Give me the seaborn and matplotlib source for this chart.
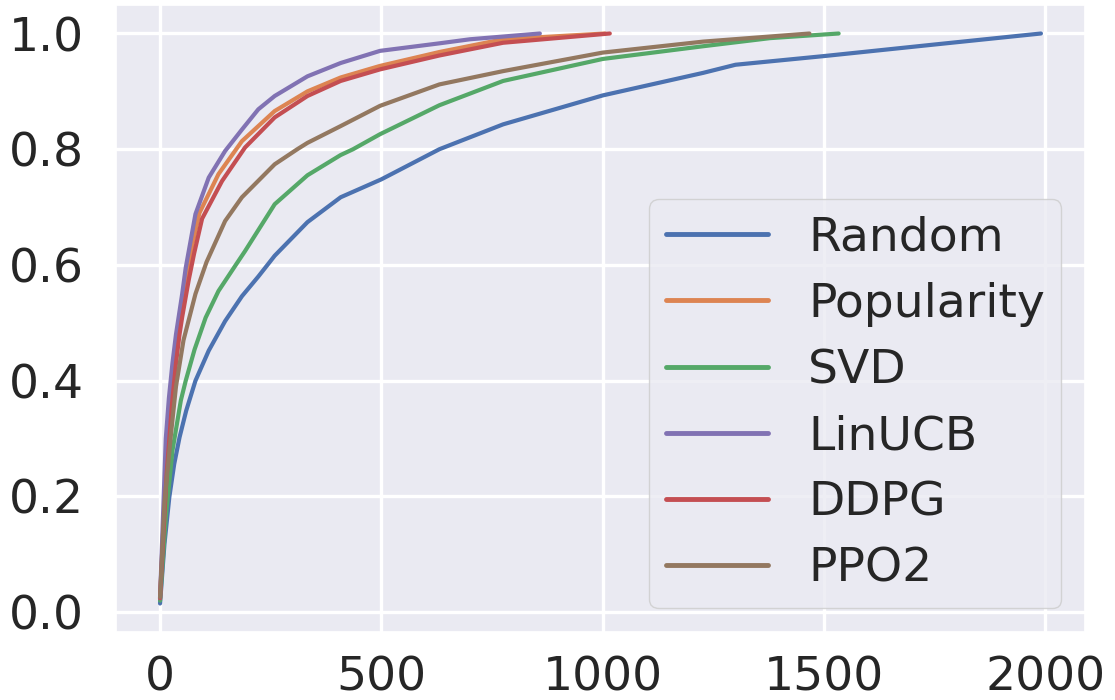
import numpy as np
import pandas as pd
import matplotlib
matplotlib.use('Agg')
import matplotlib.pyplot as plt
import seaborn as sns

sns.set_theme(style='darkgrid')

random_x = [0, 10, 21, 32, 44, 59, 80, 110, 147, 185, 222, 259, 333, 408, 500, 631, 775, 1000, 1227, 1300, 1500, 1750, 1990]
random_y = [0.015, 0.118, 0.199, 0.256, 0.302, 0.348, 0.40, 0.452, 0.503, 0.546, 0.58, 0.616, 0.674, 0.717, 0.748, 0.80, 0.843, 0.893, 0.932, 0.946, 0.961, 0.981, 1.0]

pop_x = [0, 13, 24, 33, 46, 60, 73, 89, 132, 185, 259, 333, 408, 497, 631, 775, 1005]
pop_y = [0.024, 0.24, 0.37, 0.44, 0.52, 0.585, 0.635, 0.69, 0.757, 0.814, 0.866, 0.90, 0.924, 0.944, 0.968, 0.99, 1.0]

svd_x = [0, 13, 28, 47, 58, 78, 103, 132, 171, 192, 259, 333, 408, 436, 497, 631, 775, 1000, 1227, 1378, 1533]
svd_y = [0.02, 0.164, 0.279, 0.366, 0.40, 0.454, 0.509, 0.555, 0.60, 0.624, 0.705, 0.755, 0.79, 0.80, 0.826, 0.876, 0.918, 0.956, 0.978, 0.992, 1.0]

linucb_x = [0, 13, 20, 28, 36, 50, 58, 80, 110, 147, 185, 222, 259, 333, 408, 497, 631, 700, 858]
linucb_y = [0.024, 0.30, 0.37, 0.43, 0.48, 0.55, 0.595, 0.688, 0.751, 0.797, 0.834, 0.869, 0.892, 0.926, 0.949, 0.970, 0.983, 0.99, 1.0]

ddpg_x = [0, 15, 27, 36, 44, 50, 65, 77, 95, 140, 192, 259, 333, 408, 497, 631, 775, 1016]
ddpg_y = [0.024, 0.24, 0.36, 0.43, 0.48, 0.51, 0.575, 0.62, 0.68, 0.745, 0.803, 0.855, 0.892, 0.918, 0.938, 0.962, 0.984, 1.0]

ppo_x = [0, 10, 25, 36, 53, 80, 105, 147, 185, 259, 310, 333, 408, 497, 631, 775, 1000, 1227, 1467]
ppo_y = [0.026, 0.19, 0.31, 0.39, 0.47, 0.55, 0.605, 0.676, 0.717, 0.774, 0.80, 0.811, 0.840, 0.875, 0.912, 0.935, 0.967, 0.986, 1.0]

names = ['Random', 'Popularity', 'SVD', 'LinUCB', 'DDPG', 'PPO2']
xs = [random_x, pop_x, svd_x, linucb_x, ddpg_x, ppo_x]
ys = [random_y, pop_y, svd_y, linucb_y, ddpg_y, ppo_y]

deep = sns.color_palette('deep')
colors = [deep[0], deep[1], deep[2], deep[4], deep[3], deep[5]]

df = pd.concat([pd.DataFrame({'x': x, 'y': y, 'method': n}) for x, y, n in zip(xs, ys, names)])

fig = plt.figure(figsize=(11.15, 7), dpi=100)
ax = fig.add_axes([116/1115, 1 - 632/700, (1085-116)/1115, (632-5)/700])
sns.lineplot(data=df, x='x', y='y', hue='method', palette=colors, sort=False,
             linewidth=3, ax=ax, estimator=None)
ax.grid(True, color='white', linewidth=2.4)
ax.set_xlabel('')
ax.set_ylabel('')
ax.set_xticks([0, 500, 1000, 1500, 2000])
ax.set_yticks([0.0, 0.2, 0.4, 0.6, 0.8, 1.0])
ax.tick_params(axis='y', labelsize=34, pad=17)
ax.tick_params(axis='x', labelsize=34, pad=11)
leg = ax.legend(loc='lower right', fontsize=34, handlelength=2.16,
                handletextpad=0.85, labelspacing=0.45, borderpad=0.35)
for line in leg.get_lines():
    line.set_linewidth(3.5)
fig.savefig('out.png', dpi=100)
